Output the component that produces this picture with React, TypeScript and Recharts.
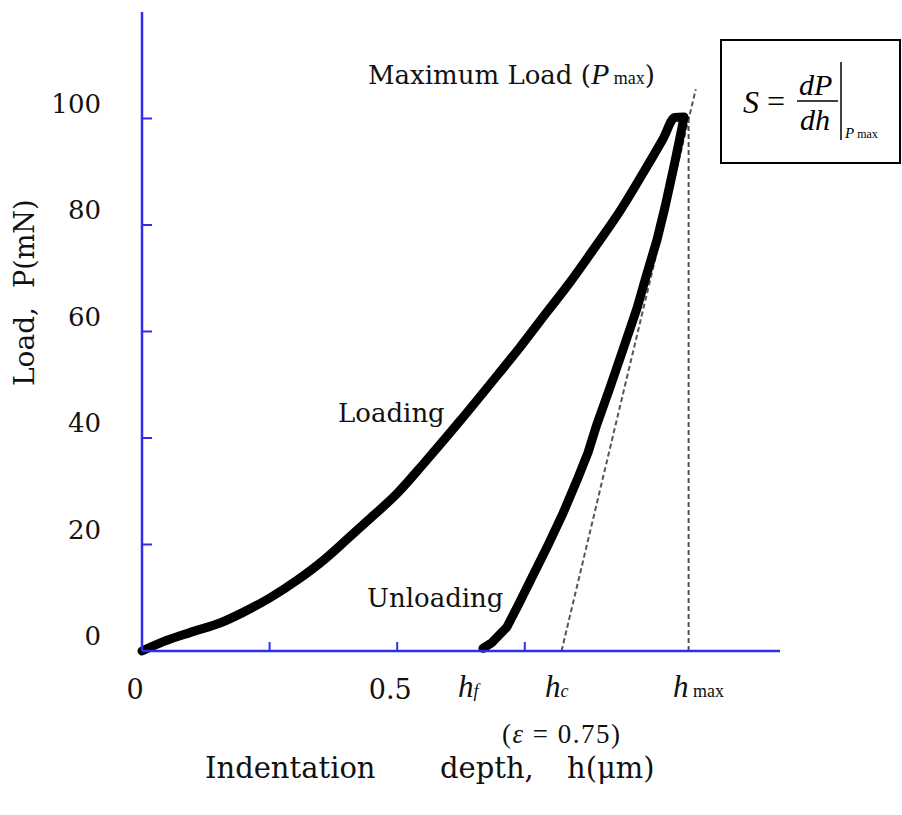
import { ComposedChart, Line, XAxis, YAxis } from "recharts";

// loading branch (h in µm, P in mN)
const loadH = [0, 0.043, 0.095, 0.154, 0.199, 0.251, 0.304, 0.355, 0.402, 0.447, 0.5, 0.551, 0.623, 0.682, 0.741, 0.793, 0.839, 0.891, 0.937, 0.982, 1.021, 1.044, 1.062];
const loadP = [0, 1.8, 3.5, 5.3, 7.3, 10.0, 13.3, 17.0, 21.0, 24.9, 29.6, 35.1, 43.2, 50.1, 57.1, 63.6, 69.3, 76.3, 82.7, 89.8, 96.2, 100.2, 100.3];

// unloading branch
const unloadH = [1.062, 1.053, 1.041, 1.025, 1.009, 0.989, 0.97, 0.942, 0.917, 0.891, 0.874, 0.852, 0.825, 0.795, 0.764, 0.737, 0.715, 0.686, 0.668];
const unloadP = [100.2, 96, 90.5, 83.5, 77.2, 70.8, 64.4, 56.5, 49.5, 42.5, 37.3, 32.0, 25.9, 19.8, 13.8, 8.6, 4.5, 1.6, 0.5];

// contact stiffness tangent and h_max guide
const tangentH = [0.822, 1.085];
const tangentP = [0, 105.5];
const hmaxH = [1.071, 1.071];
const hmaxP = [0, 100];

const yTicks = [0, 20, 40, 60, 80, 100];
const xTicks = [0, 0.25, 0.5, 0.75];
const xLabels: Record<number, string> = { 0: "0", 0.5: "0.5" };

const AXIS = "#2f2fea";
const SERIF = "'DejaVu Serif', serif";
const TIMES = "'Liberation Serif', serif";

const zip = (hs: number[], ps: number[]) => hs.map((h, i) => ({ h, P: ps[i] }));

const loading = zip(loadH, loadP);
const unloading = zip(unloadH, unloadP);
const tangent = zip(tangentH, tangentP);
const hmaxLine = zip(hmaxH, hmaxP);

function YTick({ x, y, payload }: any) {
  const v = payload.value;
  return (
    <g>
      {v > 0 && <line x1={x} y1={y} x2={x + 10} y2={y} stroke={AXIS} strokeWidth={2} />}
      <text x={101} y={y - 15} dy="0.36em" textAnchor="end" fontFamily={SERIF} fontSize={26} fill="#111">
        {v}
      </text>
    </g>
  );
}

function XTick({ x, y, payload }: any) {
  const v = payload.value;
  return (
    <g>
      {v > 0 && <line x1={x} y1={y} x2={x} y2={y - 9} stroke={AXIS} strokeWidth={2} />}
      {xLabels[v] && (
        <text x={x - 7} y={y + 48} textAnchor="middle" fontFamily={SERIF} fontSize={27} fill="#111">
          {xLabels[v]}
        </text>
      )}
    </g>
  );
}

export default function App() {
  return (
    <div style={{ position: "relative", width: 902, height: 815, background: "#fff" }}>
      <style>{"body{margin:0}"}</style>
      <ComposedChart width={902} height={815} margin={{ top: 12, right: 122, bottom: 0, left: 0 }}>
        <XAxis
          type="number"
          dataKey="h"
          domain={[0, 1.25]}
          ticks={xTicks}
          tick={<XTick />}
          tickLine={false}
          tickSize={0}
          tickMargin={0}
          axisLine={{ stroke: AXIS, strokeWidth: 2.5 }}
          height={164}
          allowDuplicatedCategory={false}
        />
        <YAxis
          type="number"
          domain={[0, 120]}
          ticks={yTicks}
          tick={<YTick />}
          tickLine={false}
          tickSize={0}
          tickMargin={0}
          axisLine={{ stroke: AXIS, strokeWidth: 2.5 }}
          width={142}
        />
        <Line data={tangent} dataKey="P" type="linear" stroke="#555" strokeWidth={2} strokeDasharray="5 3" dot={false} isAnimationActive={false} />
        <Line data={hmaxLine} dataKey="P" type="linear" stroke="#555" strokeWidth={2} strokeDasharray="5 3" dot={false} isAnimationActive={false} />
        <Line data={loading} dataKey="P" type="monotone" stroke="#000" strokeWidth={9} strokeLinejoin="round" strokeLinecap="round" dot={false} isAnimationActive={false} />
        <Line data={unloading} dataKey="P" type="linear" stroke="#000" strokeWidth={9} strokeLinejoin="round" strokeLinecap="round" dot={false} isAnimationActive={false} />
      </ComposedChart>

      <svg width={902} height={815} style={{ position: "absolute", left: 0, top: 0, pointerEvents: "none" }}>
        {/* axis titles */}
        <g transform="translate(34,0)">
          <text transform="translate(0,386) rotate(-90)" fontFamily={SERIF} fontSize={28} fill="#111">
            Load,
          </text>
          <text transform="translate(0,288) rotate(-90)" fontFamily={SERIF} fontSize={27} fill="#111">
            P(mN)
          </text>
        </g>
        <text x={205} y={778} fontFamily={SERIF} fontSize={29} fill="#111">Indentation</text>
        <text x={440} y={778} fontFamily={SERIF} fontSize={29} fill="#111">depth,</text>
        <text x={567} y={778} fontFamily={SERIF} fontSize={29} fill="#111">h(μm)</text>
        <text x={502} y={743} fontFamily={TIMES} fontSize={27} fill="#111" style={{ whiteSpace: "pre" }} textLength={118} lengthAdjust="spacing">
          (<tspan fontStyle="italic">ε</tspan>{" = 0.75)"}
        </text>

        {/* depth markers */}
        <text x={458} y={697} fontFamily={TIMES} fontSize={31} fontStyle="italic" fill="#111">
          h<tspan fontSize={18}>f</tspan>
        </text>
        <text x={545} y={697} fontFamily={TIMES} fontSize={31} fontStyle="italic" fill="#111">
          h<tspan fontSize={18}>c</tspan>
        </text>
        <text x={673} y={697} fontFamily={TIMES} fontSize={31} fontStyle="italic" fill="#111">
          h<tspan fontSize={18} fontStyle="normal">{" max"}</tspan>
        </text>

        {/* curve labels */}
        <text x={338} y={422} fontFamily={SERIF} fontSize={26} fill="#111">Loading</text>
        <text x={367} y={607} fontFamily={SERIF} fontSize={26} fill="#111">Unloading</text>
        <text x={368} y={84} fontFamily={SERIF} fontSize={26} fill="#111">
          {"Maximum Load ("}
          <tspan fontFamily={TIMES} fontStyle="italic" fontSize={30}>P</tspan>
          <tspan fontFamily={TIMES} fontSize={18}>{" max"}</tspan>
          <tspan>)</tspan>
        </text>

        {/* stiffness formula */}
        <rect x={721} y={40} width={179} height={123} fill="#fff" stroke="#000" strokeWidth={2} />
        <text x={743} y={113} fontFamily={TIMES} fontSize={32} fontStyle="italic" fill="#000">S</text>
        <text x={767} y={112} fontFamily={TIMES} fontSize={32} fill="#000">=</text>
        <text x={799} y={95} fontFamily={TIMES} fontSize={30} fontStyle="italic" fill="#000">dP</text>
        <line x1={797} y1={101} x2={838} y2={101} stroke="#000" strokeWidth={1.5} />
        <text x={800} y={130} fontFamily={TIMES} fontSize={30} fontStyle="italic" fill="#000">dh</text>
        <line x1={841} y1={62} x2={841} y2={140} stroke="#000" strokeWidth={1.5} />
        <text x={845} y={138} fontFamily={TIMES} fontSize={15} fontStyle="italic" fill="#000">
          P<tspan fontStyle="normal" fontSize={12}>{" max"}</tspan>
        </text>
      </svg>
    </div>
  );
}
